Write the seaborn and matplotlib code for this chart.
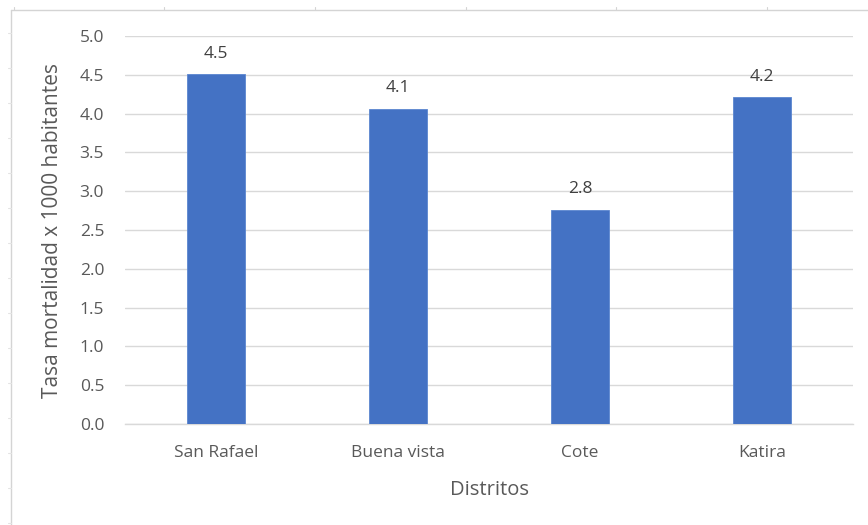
import matplotlib
matplotlib.use("Agg")
import matplotlib.pyplot as plt
from matplotlib.lines import Line2D
import seaborn as sns
import pandas as pd

# District mortality rates (per 1000 inhabitants)
distritos = ["San Rafael", "Buena vista", "Cote", "Katira"]
tasas = [4.51, 4.06, 2.76, 4.21]
y_ticks = [0.0, 0.5, 1.0, 1.5, 2.0, 2.5, 3.0, 3.5, 4.0, 4.5, 5.0]

df = pd.DataFrame({"Distritos": distritos, "Tasa": tasas})

sns.set_theme(style="white")
plt.rcParams["font.family"] = ["Open Sans", "DejaVu Sans"]

text_gray = "#595959"
grid_gray = "#d9d9d9"
bar_blue = "#4472C4"

W, H = 868, 525
fig = plt.figure(figsize=(W / 100, H / 100), dpi=100)
ax = fig.add_axes([125 / W, 1 - 424 / H, (853 - 125) / W, (424 - 36) / H])

sns.barplot(data=df, x="Distritos", y="Tasa", color=bar_blue, width=0.315,
            saturation=1, ax=ax, zorder=3)
for p in ax.patches:
    p.set_edgecolor("#5b86d0")
    p.set_linewidth(0.6)

ax.set_ylim(0, 5.0)
ax.set_xlim(-0.5, 3.5)
ax.set_yticks(y_ticks)
ax.set_yticklabels([f"{v:.1f}" for v in y_ticks])
ax.yaxis.grid(True, color=grid_gray, linewidth=1.0, zorder=0)
ax.set_axisbelow(True)

for side in ["top", "right", "left"]:
    ax.spines[side].set_visible(False)
ax.spines["bottom"].set_color(grid_gray)
ax.spines["bottom"].set_linewidth(1.0)

ax.tick_params(axis="both", length=0, labelsize=12.5, labelcolor=text_gray)
ax.tick_params(axis="y", pad=15)
ax.tick_params(axis="x", pad=15)

ax.set_xlabel("Distritos", fontsize=14.5, color=text_gray, va="top")
ax.xaxis.set_label_coords(0.5, -0.145)
ax.set_ylabel("Tasa mortalidad x 1000 habitantes", fontsize=15, color=text_gray)
ax.yaxis.set_label_coords(-0.085, 0.5)

ax.bar_label(ax.containers[0], labels=[f"{v:.1f}" for v in tasas], padding=9,
             fontsize=12.5, color="#404040")

# Frame of the chart area, with the faint sheet cell marks along it
frame = "#d4d4d4"
x0, y0 = 11, 10
fig.add_artist(Line2D([x0 / W, x0 / W], [1 - y0 / H, 0.0], color=frame,
                      linewidth=1.0, transform=fig.transFigure))
fig.add_artist(Line2D([x0 / W, 1.0], [1 - y0 / H, 1 - y0 / H], color=frame,
                      linewidth=1.0, transform=fig.transFigure))
for xm in [14, 164, 315, 466, 616, 767]:
    fig.add_artist(Line2D([xm / W, xm / W], [1 - y0 / H, 1 - (y0 - 3) / H],
                          color=frame, linewidth=0.8, transform=fig.transFigure))
for ym in range(33, H, 35):
    fig.add_artist(Line2D([(x0 - 3) / W, x0 / W], [1 - ym / H, 1 - ym / H],
                          color="#e4e4e4", linewidth=0.8, transform=fig.transFigure))

fig.savefig("out.png", dpi=100)
